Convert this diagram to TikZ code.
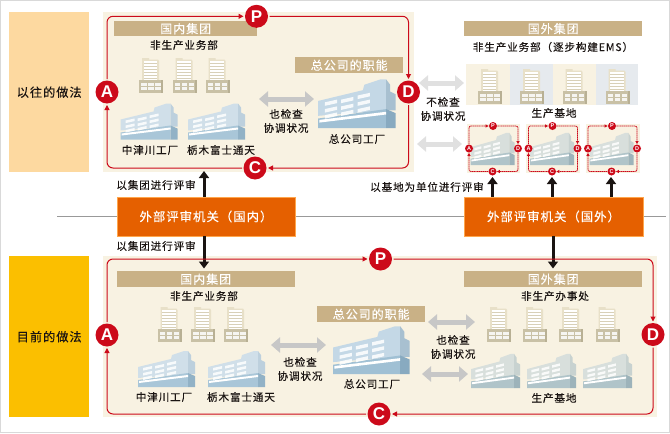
\documentclass[tikz,border=0pt]{standalone}
\usepackage{fontspec}
\setmainfont[LetterSpace=8,FakeBold=0.25]{Noto Sans CJK SC}
\newfontfamily\latfont{Liberation Sans}
\usetikzlibrary{arrows.meta}
\definecolor{cream}{HTML}{F8F2E2}
\definecolor{tan}{HTML}{C9B186}
\definecolor{redl}{HTML}{CC0A1A}
\definecolor{orangeb}{HTML}{E56000}
\definecolor{lab1}{HTML}{FDD9A0}
\definecolor{lab2}{HTML}{FBBF00}
\definecolor{ink}{HTML}{1A1412}
\definecolor{E6EAEE}{HTML}{E6EAEE}
\tikzset{
 txt/.style={text=ink,inner sep=0pt,font=\fontsize{10.6}{12}\selectfont},
 band/.style={fill=tan,inner sep=0pt,text=white,font=\fontsize{12}{14}\selectfont},
 panel/.style={fill=cream,inner sep=0pt},
 sidelab/.style={inner sep=0pt,text=ink,font=\fontsize{12.2}{14}\selectfont},
 extbox/.style={fill=orangeb,draw=orange!70!white,line width=.5pt,inner sep=0pt,text=white,font=\fontsize{12.4}{15}\selectfont},
 pdca/.style={circle,fill=redl,minimum size=23pt,inner sep=0pt,outer sep=1.5pt,text=white,font=\latfont\bfseries\fontsize{17}{17}\selectfont},
 minipdca/.style={circle,fill=redl,minimum size=8pt,inner sep=0pt,outer sep=.4pt,text=white,font=\latfont\bfseries\fontsize{5.5}{6}\selectfont},
 loopline/.style={draw=redl,line width=1pt,rounded corners=6pt,-{Triangle[length=5pt,width=5pt]}},
 miniline/.style={draw=redl,line width=.8pt,rounded corners=2pt,dash pattern=on 1.4pt off .5pt,-{Triangle[length=3pt,width=3pt]}},
 grayarrow/.style={draw=#1,line width=5pt,{Triangle[length=9pt,width=15pt]}-{Triangle[length=9pt,width=15pt]}},
 blackarrow/.style={draw=ink,line width=3pt,-{Triangle[length=7pt,width=10pt]}},
}
% office block: x, y of top-left corner (24 x 35)
\newcommand{\officeb}[2]{\begin{scope}[shift={(#1,#2)}]
 \fill[fill=E8E0C8] (3,0)--(10,0)--(10,1.5)--(19,1.5)--(20,3)--(20,24)--(3,24)--cycle;
 \fill[fill=white] (4.5,3) rectangle (18,22);
 \foreach \yy in {5,8,11,14,17,20}{\fill[fill=D8D0B8] (4.5,\yy) rectangle (18,\yy+.6);}
 \fill[fill=C9C1A6] (0,22) rectangle (24,35);
 \fill[fill=B8B094] (22,22) rectangle (24,35);
 \foreach \xx in {2,9,16}{\fill[fill=white,fill opacity=.85] (\xx,24.5) rectangle (\xx+5.5,27.5);\fill[fill=white,fill opacity=.85] (\xx,28.5) rectangle (\xx+5.5,31.5);}
\end{scope}}
% factory: x, y, width, height, palette top/facet/band/bandright
\newcommand{\factoryb}[8]{\begin{scope}[shift={(#1,#2)},xscale=#3/58,yscale=#4/37]
 \fill[fill=#5] (0,28)--(0,17)--(33,9)--(34,5)--(46,1)--(50,1)--(50,24)--cycle;
 \fill[fill=#6] (50,1)--(53,5)--(53,10)--(57,12)--(57,24)--(50,24)--cycle;
 \fill[fill=#7] (0,30)--(0,37)--(50,37)--(50,23)--cycle;
 \fill[fill=#8] (50,23)--(57,26)--(57,37)--(50,37)--cycle;
 \fill[fill=white] (1,31)--(50,25)--(50,27)--(1,33)--cycle;
 \foreach \xx/\yy in {5/18,17/16,29/13,5/23,17/21,29/18,5/27.5,17/25.5,29/23}{
  \fill[fill=white,fill opacity=.85] (\xx,\yy)--(\xx+9,\yy-2)--(\xx+9,\yy+.6)--(\xx,\yy+2.6)--cycle;}
\end{scope}}
\newcommand{\miniloop}[2]{%
 \factoryb{#2+4}{132}{45}{33}{D8DFDC}{C8D2D0}{B0C4C9}{9DB3BA}
 \node[minipdca] (#1P) at (#2+26.5,126) {P};
 \node[minipdca] (#1A) at (#2+2.5,148.5) {A};
 \node[minipdca] (#1D) at (#2+51.5,148.5) {D};
 \node[minipdca] (#1C) at (#2+26,171.5) {C};
 \draw[miniline] (#1A) |- (#1P);
 \draw[miniline] (#1P) -| (#1D);
 \draw[miniline] (#1D) |- (#1C);
 \draw[miniline] (#1C) -| (#1A);
}
\definecolor{E8E0C8}{HTML}{E8E0C8}\definecolor{D8D0B8}{HTML}{D8D0B8}\definecolor{C9C1A6}{HTML}{C9C1A6}\definecolor{B8B094}{HTML}{B8B094}
\definecolor{D0DFE9}{HTML}{D0DFE9}\definecolor{BDD0DD}{HTML}{BDD0DD}\definecolor{A9C6D8}{HTML}{A9C6D8}\definecolor{92B2C6}{HTML}{92B2C6}
\definecolor{C4D8E6}{HTML}{C4D8E6}\definecolor{A8C0D0}{HTML}{A8C0D0}\definecolor{A0C0D4}{HTML}{A0C0D4}\definecolor{88AAC0}{HTML}{88AAC0}
\definecolor{D8DFDC}{HTML}{D8DFDC}\definecolor{C8D2D0}{HTML}{C8D2D0}\definecolor{B0C4C9}{HTML}{B0C4C9}\definecolor{9DB3BA}{HTML}{9DB3BA}
\newcommand{\rbox}[6]{\node[#2,anchor=north west,minimum width=#5pt-#3pt,minimum height=#6pt-#4pt] (#1) at (#3,#4)}
\begin{document}
\begin{tikzpicture}[x=1pt,y=-1pt]
\useasboundingbox (0,0) rectangle (670,434);
\fill[white] (0,0) rectangle (670,434);
\draw[draw=black!15,line width=1pt] (.5,.5) rectangle (669.5,432.8);
% divider
\draw[draw=black!40,line width=.8pt] (57,216.5) -- (666,216.5);
% side labels
\rbox{sideold}{fill=lab1,inner sep=0pt,sidelab}{9}{12}{89}{172} {以往的做法};
\rbox{sidenew}{fill=lab2,inner sep=0pt,sidelab}{9}{256}{89}{417} {目前的做法};
% panels
\rbox{panelold}{panel}{102.5}{12}{414}{172} {};
\rbox{panelnew}{panel}{102.5}{256}{657}{417} {};
% ===== upper panel =====
\rbox{hdomold}{band}{114}{21}{257}{36} {国内集团};
\node[txt] (ndold) at (184,45) {非生产业务部};
\officeb{139}{58}\officeb{172.5}{58}\officeb{205.5}{58}
\factoryb{120.5}{102.5}{58}{37}{D0DFE9}{BDD0DD}{A9C6D8}{92B2C6}
\factoryb{188}{102.5}{58}{37}{D0DFE9}{BDD0DD}{A9C6D8}{92B2C6}
\node[txt] (nakaold) at (150,150) {中津川工厂};
\node[txt] (tochiold) at (221,150) {栃木富士通天};
\coordinate (ga1) at (259,99);\coordinate (gb1) at (314,99);
\draw[grayarrow=black!22] (ga1) -- (gb1);
\node[txt] (chk1a) at (286,114) {也检查};
\node[txt] (chk1b) at (286,128) {协调状况};
\rbox{hqhold}{band}{295}{57}{403}{73} {总公司的职能};
\factoryb{318}{78}{79}{50}{C4D8E6}{A8C0D0}{A0C0D4}{88AAC0}
\node[txt] (hqold) at (357,139) {总公司工厂};
\node[pdca] (P1) at (256.5,16.3) {P};
\node[pdca] (A1) at (107,92) {A};
\node[pdca] (D1) at (408.5,92) {D};
\node[pdca] (C1) at (255,168) {C};
\draw[loopline] (A1) |- (P1);
\draw[loopline] (P1) -| (D1);
\draw[loopline] (D1) |- (C1);
\draw[loopline] (C1) -| (A1);
% ===== overseas (old) =====
\rbox{hovold}{band}{464}{21}{642}{36} {国外集团};
\node[txt] (ndov) at (553,47) {非生产业务部（逐步构建EMS）};
\rbox{t1}{fill=cream,inner sep=0pt}{466}{64}{509.5}{105} {};
\rbox{t2}{fill=E6EAEE,inner sep=0pt}{509.5}{64}{553}{105} {};
\rbox{t3}{fill=cream,inner sep=0pt}{553}{64}{595.5}{105} {};
\rbox{t4}{fill=E6EAEE,inner sep=0pt}{595.5}{64}{638}{105} {};
\officeb{478}{69}\officeb{520}{69}\officeb{562.5}{69}\officeb{605.5}{69}
\node[txt] (baseold) at (554,113) {生产基地};
\rbox{m1}{panel}{466.5}{124}{520}{173} {};
\rbox{m2}{panel}{526}{124}{580}{173} {};
\rbox{m3}{panel}{585.5}{124}{639.5}{173} {};
\miniloop{ma}{466.5}
\miniloop{mb}{526}
\miniloop{mc}{585.5}
\coordinate (ga2) at (419,83);\coordinate (gb2) at (464,83);
\draw[grayarrow=black!12] (ga2) -- (gb2);
\coordinate (ga3) at (417,144);\coordinate (gb3) at (462,144);
\draw[grayarrow=black!12] (ga3) -- (gb3);
\node[txt] (nochka) at (443,102) {不检查};
\node[txt] (nochkb) at (443,116) {协调状况};
% ===== external bodies =====
\rbox{extdom}{extbox}{116.5}{197}{295}{235.5} {外部评审机关（国内）};
\rbox{extov}{extbox}{463.5}{197}{643}{235.5} {外部评审机关（国外）};
\coordinate (u1) at (204,171);\coordinate (ub1) at (492.5,177);\coordinate (ub2) at (552,177);\coordinate (ub3) at (611,177);
\draw[blackarrow] (u1 |- extdom.north) -- (u1);
\draw[blackarrow] (ub1 |- extov.north) -- (ub1);
\draw[blackarrow] (ub2 |- extov.north) -- (ub2);
\draw[blackarrow] (ub3 |- extov.north) -- (ub3);
\coordinate (d1) at (204,268.5);\coordinate (d2) at (553,268.5);
\draw[blackarrow] (d1 |- extdom.south) -- (d1);
\draw[blackarrow] (d2 |- extov.south) -- (d2);
\node[txt] (revup) at (156,185) {以集团进行评审};
\node[txt] (revbase) at (427,187) {以基地为单位进行评审};
\node[txt] (revdn) at (156,246) {以集团进行评审};
% ===== lower panel =====
\rbox{hdomnew}{band}{116.5}{271}{294.5}{287} {国内集团};
\node[txt] (ndnew) at (204,296) {非生产业务部};
\officeb{157.5}{307}\officeb{191}{307}\officeb{224}{307}
\factoryb{138}{350}{58}{37}{D0DFE9}{BDD0DD}{A9C6D8}{92B2C6}
\factoryb{208}{350}{58}{37}{D0DFE9}{BDD0DD}{A9C6D8}{92B2C6}
\node[txt] (nakanew) at (164,397) {中津川工厂};
\node[txt] (tochinew) at (241,397) {栃木富士通天};
\coordinate (ga4) at (271,345);\coordinate (gb4) at (326,345);
\draw[grayarrow=black!22] (ga4) -- (gb4);
\node[txt] (chk4a) at (300,362) {也检查};
\node[txt] (chk4b) at (300,376) {协调状况};
\rbox{hqhnew}{band}{317}{306}{425}{322} {总公司的职能};
\factoryb{333}{325}{78}{49}{C4D8E6}{A8C0D0}{A0C0D4}{88AAC0}
\node[txt] (hqnew) at (372,384) {总公司工厂};
\coordinate (ga5) at (428,322);\coordinate (gb5) at (475,322);
\draw[grayarrow=black!22] (ga5) -- (gb5);
\coordinate (ga6) at (422,374);\coordinate (gb6) at (468,374);
\draw[grayarrow=black!22] (ga6) -- (gb6);
\node[txt] (chk5a) at (453,340) {也检查};
\node[txt] (chk5b) at (453,354) {协调状况};
\rbox{hovnew}{band}{464}{271}{642}{287} {国外集团};
\node[txt] (ndnewov) at (555,296) {非生产办事处};
\officeb{487}{307}\officeb{523}{307}\officeb{559}{307}\officeb{595.5}{307}
\factoryb{471}{353}{50}{35}{D8DFDC}{C8D2D0}{B0C4C9}{9DB3BA}
\factoryb{527}{353}{50}{35}{D8DFDC}{C8D2D0}{B0C4C9}{9DB3BA}
\factoryb{583}{353}{50}{35}{D8DFDC}{C8D2D0}{B0C4C9}{9DB3BA}
\node[txt] (basenew) at (554,398) {生产基地};
\node[pdca] (P2) at (380.5,259) {P};
\node[pdca] (A2) at (107,335) {A};
\node[pdca] (D2) at (653,334.5) {D};
\node[pdca] (C2) at (379,414) {C};
\draw[loopline] (A2) |- (P2);
\draw[loopline] (P2) -| (D2);
\draw[loopline] (D2) |- (C2);
\draw[loopline] (C2) -| (A2);
\end{tikzpicture}
\end{document}
